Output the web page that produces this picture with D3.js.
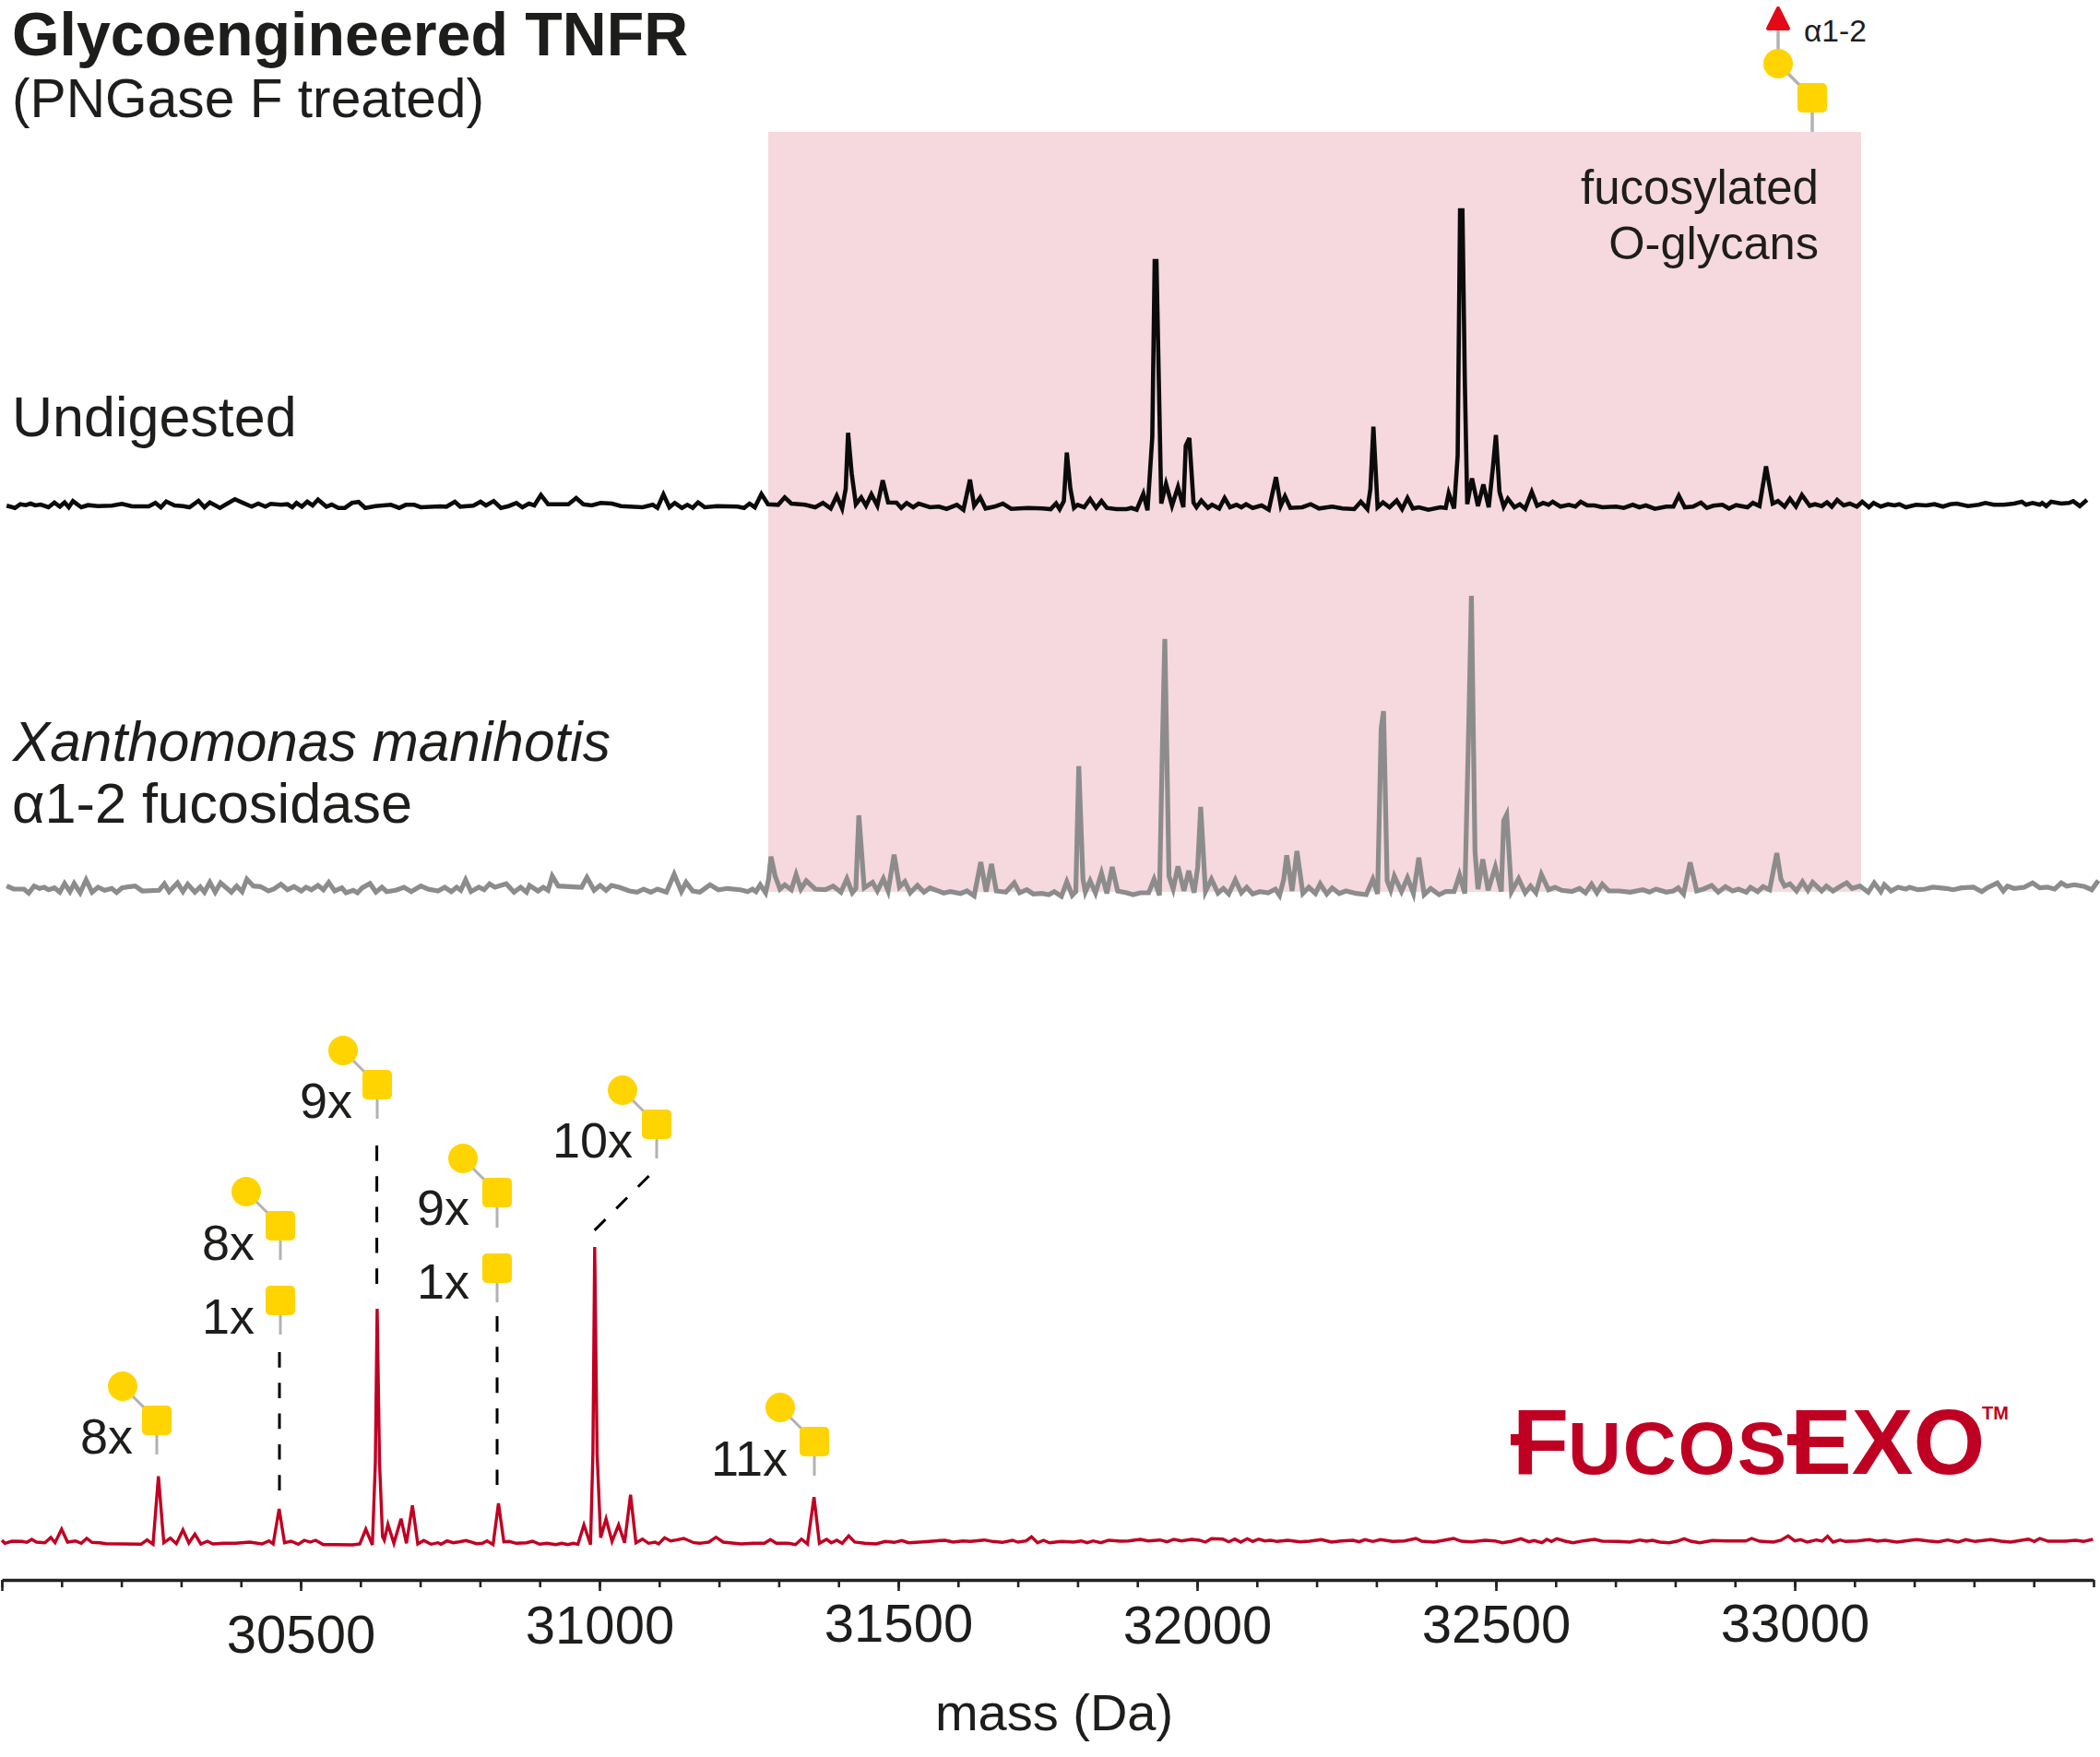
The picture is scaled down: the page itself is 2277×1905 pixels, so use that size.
<!DOCTYPE html>
<html><head><meta charset="utf-8">
<script src="https://d3js.org/d3.v7.min.js"></script>
<style>
html,body{margin:0;padding:0;background:#fff}
svg{display:block}
text{font-family:"Liberation Sans",Arial,sans-serif;fill:#1d1d1b}
</style></head><body>
<svg id="chart" width="2277" height="1905"></svg>
<script>
const massTicksMajor=[30000,30500,31000,31500,32000,32500,33000];
const massTickLabels=[30500,31000,31500,32000,32500,33000];

const undigestedMass=[30008,30022,30031,30040,30048,30056,30065,30078,30088,30097,30105,30112,30119,30133,30144,30161,30184,30201,30218,30246,30257,30266,30275,30289,30303,30314,30329,30339,30348,30365,30374,30390,30404,30418,30429,30441,30450,30467,30478,30486,30493,30502,30511,30520,30529,30543,30552,30563,30574,30586,30597,30608,30625,30651,30665,30676,30690,30701,30733,30744,30758,30767,30789,30801,30810,30823,30835,30848,30861,30871,30882,30891,30902,30914,30948,30961,30973,30987,31002,31021,31036,31072,31089,31097,31107,31117,31126,31138,31147,31156,31165,31176,31197,31231,31242,31251,31260,31271,31282,31299,31310,31321,31344,31361,31374,31387,31397,31406,31412,31416,31422,31429,31438,31446,31455,31465,31474,31483,31497,31505,31514,31525,31534,31553,31568,31581,31598,31609,31620,31627,31637,31646,31661,31675,31689,31717,31741,31755,31764,31770,31777,31782,31788,31794,31800,31811,31821,31831,31840,31849,31865,31882,31890,31899,31910,31917,31925,31929,31932,31936,31940,31948,31958,31968,31977,31981,31987,31994,31999,32007,32018,32025,32037,32046,32055,32066,32074,32082,32093,32108,32120,32132,32140,32147,32156,32176,32190,32204,32226,32243,32263,32274,32285,32290,32295,32302,32311,32322,32334,32343,32352,32361,32371,32387,32407,32416,32421,32430,32436,32440,32444,32448,32452,32460,32470,32479,32488,32495,32500,32506,32513,32520,32531,32540,32549,32560,32569,32579,32588,32595,32608,32622,32633,32642,32653,32665,32678,32701,32714,32729,32740,32751,32766,32785,32797,32806,32816,32830,32843,32853,32864,32879,32890,32902,32921,32930,32941,32952,32963,32972,32983,32992,33002,33012,33025,33034,33045,33054,33062,33071,33082,33092,33104,33113,33124,33132,33144,33156,33167,33175,33186,33203,33220,33234,33248,33260,33271,33290,33308,33319,33333,33350,33367,33380,33387,33398,33410,33414,33421,33429,33446,33459,33466,33477,33489];
const undigestedIntensity=[5.7,3.3,7.3,6.3,8,6,7,4,9,4.7,9.3,4,10.7,4,6.3,5.3,5.7,7.7,5,5,8.7,4,10.3,6,5.3,4,11,4,9.3,3.3,6.7,12.7,8.7,4.7,8,4.7,7.7,6.7,7.3,4,8.7,4.7,10,6,12.3,4.7,7,3.3,3.3,8.7,9.7,3.3,5.3,6.7,3.3,6.7,6.7,4,5,4.7,10,4.7,5.7,10,6,10.7,3.3,5.3,8.7,4,8,6,17.3,7.3,7.3,14,7.3,6,8.7,8,5.3,4,6.7,3.3,18,4,8.7,3.3,6.7,3.3,9.3,4,5.3,4.7,3.3,8,4,18.3,7.3,6.7,14.7,8,6.7,4,8.7,2.7,16.3,2.7,24,84.7,40.7,7.3,14.7,5.7,18,5.7,33.3,9.3,9,3.3,8.7,4,8,4,4.7,2.3,6.7,1.3,34,5.7,14.7,2.7,4.7,8,2.3,3.3,2.7,2,8.3,2,10.7,63.3,24,3.3,6.7,4,13,3.3,10.7,3.3,2,2,3.3,1.3,18.7,0.7,80,271,271,140,8,29.3,5.7,26,4,70.7,79,9,4,11.3,3.3,6.7,2.7,14,4,6.7,4,7.3,3.3,6,1.3,36.7,5.7,16,3.3,4,7.3,2.7,4.7,2.7,2,10,2,24,91.3,4,9.3,4,11.3,2,14,2.7,4,1.3,4,3.3,19.3,2.7,60,326,326,140,7.3,35.3,5.3,28.7,4,47.3,82.3,20.7,4.7,13.3,4,7.3,2.3,20.7,5.7,8.7,6.7,10,4.7,6.7,4.7,10,6,6,4,4.7,3.3,6.7,4,6,2.3,4.7,4.7,16.7,4,4.7,9,3.3,5.7,6.7,2.7,6.3,4,8.7,5.3,48.3,8,10.7,4.7,13.3,4.7,17.3,5.7,7.3,5.3,9.3,4.7,12,6,8,4.7,10,4,8.7,4.7,7.3,6,7.3,4,6.7,6,7.3,4.7,7.3,8,5.3,6.7,8.7,6.7,6.7,8,10,6.7,8.7,6.7,8.7,5.3,10,8,8.7,10.7,5.3,12];

const fucosidaseMass=[30008,30020,30037,30045,30054,30063,30071,30078,30088,30097,30105,30114,30121,30131,30141,30151,30161,30172,30184,30192,30201,30214,30223,30235,30263,30272,30280,30294,30303,30311,30323,30332,30339,30348,30357,30366,30384,30393,30402,30410,30421,30433,30446,30455,30467,30478,30489,30501,30509,30518,30529,30538,30547,30557,30569,30576,30588,30595,30603,30616,30626,30636,30644,30659,30673,30685,30701,30713,30730,30741,30752,30761,30768,30776,30785,30798,30807,30816,30825,30844,30857,30868,30878,30883,30897,30906,30914,30921,30931,30970,30979,30991,31001,31011,31020,31033,31050,31063,31074,31086,31097,31112,31125,31137,31145,31156,31168,31185,31199,31214,31236,31248,31256,31262,31269,31278,31283,31287,31294,31302,31310,31321,31329,31337,31346,31361,31378,31391,31404,31414,31423,31429,31434,31443,31457,31465,31475,31483,31493,31502,31511,31520,31532,31543,31553,31576,31587,31604,31615,31627,31638,31647,31656,31664,31680,31694,31703,31715,31726,31740,31752,31761,31773,31782,31791,31797,31802,31809,31813,31821,31830,31840,31849,31858,31867,31882,31893,31905,31919,31928,31937,31942,31946,31953,31960,31968,31978,31986,31995,32001,32006,32014,32024,32035,32044,32053,32064,32074,32083,32093,32105,32119,32131,32138,32145,32150,32159,32167,32177,32187,32198,32206,32217,32226,32238,32249,32266,32283,32294,32302,32308,32312,32318,32324,32330,32342,32352,32362,32371,32380,32391,32405,32416,32430,32439,32448,32455,32459,32465,32470,32478,32487,32499,32509,32513,32518,32526,32538,32549,32558,32567,32576,32588,32599,32610,32627,32640,32650,32660,32669,32678,32689,32706,32725,32746,32757,32768,32785,32797,32805,32814,32825,32836,32847,32861,32872,32884,32896,32906,32919,32926,32938,32947,32958,32970,32977,32983,32992,33003,33013,33022,33030,33045,33053,33064,33077,33087,33096,33109,33123,33133,33144,33150,33161,33173,33186,33192,33206,33218,33231,33254,33265,33279,33299,33313,33322,33339,33349,33356,33367,33384,33398,33410,33423,33435,33446,33455,33468,33485,33497,33508];
const fucosidaseIntensity=[11.3,8,8,3.7,11.3,8.7,10,7.3,9.3,4.7,14,5.3,14,4,18,4.7,10,6.7,8.7,4.3,9.3,10.7,11.3,6,6.7,13.7,5.3,14.7,5.3,13.3,4.7,10.3,4.7,15.3,4.7,14.7,4.7,11.3,5.3,18.7,11.3,10.7,6,8,13.3,7.3,10.7,6,10,7.3,12,7.3,15.3,6,9.3,4,6.7,4,9.3,14,4.7,10,5.3,6.7,10,5.3,11.3,8,6,10,5.3,10,6.7,18,5.3,10,7.3,13.7,10,13.7,4.7,10,4.7,12,6,10,6.7,22,11.3,10,20.7,6.7,12,6.7,12,10,6,4.7,8,4.7,8,4.7,24,5.3,15.3,6,4.7,12.7,7.3,8.7,7.3,5.3,8,5.3,12.7,4,18.7,43.3,22,8,12.7,7.3,23.7,8,17,8,7.3,11.3,4.7,19.3,4,8.7,88,9.3,15.3,6,19.3,6,45.3,10.3,16,4,12,4.7,9.3,3.7,5.3,3.3,6,0.7,37.3,5.3,35.3,6,4.7,14.7,4,7.3,2.7,3.3,2,5.3,0.3,16,1.3,5.3,141.3,18.7,4.7,17,3.7,25.3,3.3,32,6,4,2,4,4,18.7,1.3,165.3,279.3,22,8,32.7,6,28,4,32,97,5.3,18.7,3.7,8.7,2.7,18,4,10,2.7,5.3,4,8,1.3,18.7,44.7,6,49.3,3.3,10,3.3,13.7,2.7,9.3,3.3,6,3.3,2,18.7,2.7,182,201,17,7,22,5.3,20.3,3.3,42,2,8.7,2,5.3,5.3,23.3,3.3,198.7,326,48.7,8,40.3,6.7,32,5.3,82,88.7,5.3,19.3,4,11.3,4,24,7.3,10,6.7,5.3,8.7,4,13.3,4,13.3,6,6,4.7,7.3,4.7,8,4.7,6,9.3,2.7,37,6,8,12,4.7,10.7,6,8,4.7,10,5.3,10.7,7.3,47,18.7,11.3,13.7,6,16,6.7,15.3,6,11.3,6,11.3,14.7,8.7,11.3,4.7,14.7,5.3,12.7,6,10,8,10,7.3,8,10,8.7,7.3,9.3,10,5.3,9.3,14.7,6,11.3,8.7,10,14.7,9.3,10,8,14.7,11.3,12.7,10.7,7.3,17.3];

const fucosexoMass=[30000,30005,30017,30034,30042,30050,30058,30072,30082,30089,30100,30110,30123,30133,30142,30151,30164,30174,30233,30243,30253,30262,30271,30282,30292,30303,30313,30323,30333,30344,30353,30371,30391,30415,30435,30447,30454,30464,30473,30484,30496,30506,30516,30525,30538,30558,30587,30599,30609,30620,30625,30628,30632,30637,30640,30646,30656,30668,30677,30687,30696,30706,30718,30730,30735,30745,30755,30765,30777,30794,30804,30812,30822,30831,30840,30849,30861,30878,30888,30900,30912,30927,30937,30947,30956,30964,30974,30985,30989,30992,30996,31002,31011,31021,31032,31042,31052,31061,31072,31082,31093,31099,31109,31119,31129,31141,31158,31168,31183,31195,31207,31222,31237,31257,31276,31286,31296,31316,31328,31338,31348,31359,31368,31380,31388,31397,31406,31417,31427,31444,31463,31478,31493,31506,31517,31542,31562,31578,31592,31608,31621,31644,31658,31674,31691,31700,31714,31723,31733,31743,31753,31773,31793,31806,31816,31826,31839,31852,31872,31885,31905,31918,31938,31950,31961,31974,31991,32004,32014,32024,32043,32053,32063,32073,32084,32093,32103,32113,32123,32134,32152,32172,32188,32208,32225,32241,32261,32271,32281,32294,32307,32327,32347,32366,32376,32396,32413,32429,32442,32459,32482,32498,32511,32527,32542,32555,32564,32577,32585,32593,32602,32616,32629,32646,32665,32678,32705,32724,32741,32752,32762,32774,32790,32803,32815,32826,32841,32862,32885,32918,32928,32941,32964,32977,32989,33000,33010,33021,33036,33046,33055,33064,33076,33085,33105,33125,33138,33151,33171,33191,33204,33223,33240,33256,33273,33286,33302,33328,33345,33361,33391,33401,33410,33424,33453,33470,33483,33499];
const fucosexoIntensity=[6,2.7,5,4.7,3.7,7,4,3.3,9,3.3,18,4,5.3,2.7,8,3.7,3.3,2.3,1.7,6.3,1.7,75.3,3.3,8.3,2.3,17.3,3,12.7,2,5,2,2.7,2.7,4,2,5.3,2,40,3.3,5,1.7,6,4,6,1.3,1.3,1,2,18,1,90,257,90,10,6,23.3,2.7,29.3,2.7,43.7,2,5.7,1.7,3.3,1.7,5.3,3.3,4.3,5.7,2.3,2.7,5.3,1.3,46,4.3,4.7,2.7,3.3,5,1.7,2.7,1.3,2.7,1.3,2.7,1.7,22.7,1.3,100,324,100,8.7,29.3,4.7,22.7,3.3,55.3,3.3,7.3,2.7,4,2,8.7,5.3,6.3,8,3.3,2.7,4,9.3,4,3,2,2.7,2.7,6.7,2.7,2.7,1.3,7.3,2,52.7,2.7,7,3.3,6,2.7,10.7,4,2.7,2,4.7,3.7,5.7,3.3,4.3,5.3,6,4,5.3,4.7,6.3,4.7,3.7,6,4,5.3,9.7,3.3,6,3.3,4.7,4,5.3,3.3,5.3,3.3,6,5,5.3,7,5.3,6.3,4.3,7,5.3,7,6,4,7.7,7.3,4.3,7.3,4,7.7,4.7,7.3,5.3,6,4.7,6,4.3,5,6.7,4,5.3,6,4.3,6.7,4.7,6.7,4.7,5.3,8,5,4,6,8,5,4.3,6,5.3,3.3,5,7.7,4.3,5.7,3.3,7,4.7,7.7,5,3.3,5.3,7,5,4.7,4,6.3,5,6,4,3.3,5,7.7,5,3.3,5.7,5.3,5.3,8,5,4,6,10.7,5.3,6.7,4,6.3,5,10.3,4,6.3,4.7,5.3,6.7,5,6,4,5.7,6.7,5.3,4.3,6.3,4,6.7,4.7,6.7,5,4,7.3,4.7,8,5,5,6,4.7,7];

const tickBaselines={30500:1792,31000:1782,31500:1780,32000:1782,32500:1781,33000:1780};

const svg=d3.select("#chart");
const x=d3.scaleLinear().domain([30000,33500]).range([2,2270]);
const yUndigested=d3.scaleLinear().domain([0,326]).range([554,228]);
const yFucosidase=d3.scaleLinear().domain([0,326]).range([972,646]);
const yFucosEXO=d3.scaleLinear().domain([0,324]).range([1676,1352]);

// shaded fucosylated O-glycan region
svg.append("rect").attr("x",833).attr("y",143).attr("width",1185).attr("height",824).attr("fill","#f5d9df");

function trace(massArr,intArr,y,color,w){
  const line=d3.line().x(d=>x(d[0])).y(d=>y(d[1]));
  svg.append("path").datum(d3.zip(massArr,intArr)).attr("d",line)
    .attr("fill","none").attr("stroke",color).attr("stroke-width",w)
    .attr("stroke-linejoin","miter").attr("stroke-miterlimit",4);
}
trace(undigestedMass,undigestedIntensity,yUndigested,"#0b0b0b",4.6);
trace(fucosidaseMass,fucosidaseIntensity,yFucosidase,"#8c8c8c",5.2);
trace(fucosexoMass,fucosexoIntensity,yFucosEXO,"#c00022",3.4);

// axis
const axisY=1713;
const minor=svg.append("g").attr("transform",`translate(0,${axisY})`)
  .call(d3.axisBottom(x).tickValues(d3.range(30000,33501,100)).tickSize(8).tickSizeOuter(0).tickFormat(""));
minor.select(".domain").attr("stroke","#222").attr("stroke-width",3.6);
minor.selectAll(".tick line").attr("stroke","#222").attr("stroke-width",2.6);
const major=svg.append("g").attr("transform",`translate(0,${axisY})`)
  .call(d3.axisBottom(x).tickValues(massTicksMajor).tickSize(12).tickSizeOuter(0)
    .tickFormat(d=>massTickLabels.includes(d)?String(d):""));
major.select(".domain").remove();
major.selectAll(".tick line").attr("stroke","#222").attr("stroke-width",2.6);
major.selectAll(".tick text").attr("dy",null).attr("y",d=>(tickBaselines[d]||1780)-axisY)
  .style("font-size","58px").style("font-family",'"Liberation Sans"').attr("fill","#1d1d1b");
major.attr("font-size",null).attr("font-family",null);

function txt(s,px,py,size,opt={}){
  return svg.append("text").attr("x",px).attr("y",py).text(s).style("font-size",size+"px")
    .attr("text-anchor",opt.anchor||"start").style("font-weight",opt.weight||"normal").style("font-style",opt.style||"normal");
}
txt("Glycoengineered TNFR",13,60,66.3,{weight:"bold"});
txt("(PNGase F treated)",13,127,58.7);
txt("Undigested",13,473,61);
txt("Xanthomonas manihotis",14,825,60.4,{style:"italic"});
txt("α1-2 fucosidase",13,892,61.3);
txt("fucosylated",1972,221,51,{anchor:"end"});
txt("O-glycans",1972,281,50.6,{anchor:"end"});
txt("mass (Da)",1143,1876,56,{anchor:"middle"});

// glycan glyphs
const gold="#ffd400", linkGrey="#b2b2b2";
function square(cx,cy,stemEnd){
  svg.append("line").attr("x1",cx).attr("x2",cx).attr("y1",cy).attr("y2",stemEnd).attr("stroke",linkGrey).attr("stroke-width",3);
  svg.append("rect").attr("x",cx-16).attr("y",cy-16).attr("width",32).attr("height",32).attr("rx",5).attr("fill",gold);
}
function glycan(cx,cy,stemEnd,label,labelRight,labelBase){
  svg.append("line").attr("x1",cx-37).attr("y1",cy-37).attr("x2",cx).attr("y2",cy).attr("stroke",linkGrey).attr("stroke-width",3);
  square(cx,cy,stemEnd);
  svg.append("circle").attr("cx",cx-37).attr("cy",cy-37).attr("r",16).attr("fill",gold);
  txt(label,labelRight,labelBase,54,{anchor:"end"});
}
function single(cx,cy,stemEnd,label,labelRight,labelBase){
  square(cx,cy,stemEnd);
  txt(label,labelRight,labelBase,54,{anchor:"end"});
}
function dash(x1,y1,x2,y2){
  svg.append("line").attr("x1",x1).attr("y1",y1).attr("x2",x2).attr("y2",y2)
    .attr("stroke","#000").attr("stroke-width",3).attr("stroke-dasharray","16.7 16.6");
}
glycan(170,1540,1577,"8x",144,1576);
glycan(304,1329,1366,"8x",276,1366);
single(304,1410,1447,"1x",276,1446);
glycan(409,1176,1213,"9x",382,1212);
glycan(539,1293,1331,"9x",509,1328);
single(539,1375,1412,"1x",509,1408);
glycan(712,1219,1256,"10x",686,1255);
glycan(883,1563,1600,"11x",854,1600);
dash(303,1466,303,1616);
dash(408.6,1242,408.6,1392);
dash(539,1427,539,1610);
dash(703.6,1275,644.6,1334);

// fucose-bearing glyph above the shaded region
svg.append("line").attr("x1",1928).attr("x2",1928).attr("y1",30).attr("y2",60).attr("stroke",linkGrey).attr("stroke-width",3.5);
svg.append("line").attr("x1",1928).attr("y1",69).attr("x2",1965).attr("y2",106).attr("stroke",linkGrey).attr("stroke-width",3.5);
svg.append("line").attr("x1",1965).attr("x2",1965).attr("y1",106).attr("y2",143).attr("stroke",linkGrey).attr("stroke-width",3.5);
svg.append("path").attr("d",d3.line()([[1928,9],[1939,31],[1917,31]])+"Z").attr("fill","#e30a17").attr("stroke","#e30a17").attr("stroke-width",4).attr("stroke-linejoin","round");
svg.append("circle").attr("cx",1928).attr("cy",69).attr("r",16).attr("fill",gold);
svg.append("rect").attr("x",1949).attr("y",90).attr("width",32).attr("height",32).attr("rx",5).attr("fill",gold);
txt("α1-2",1956,45,33.5);

// logo
const red="#bf0022";
svg.append("rect").attr("x",1638).attr("y",1555).attr("width",14).attr("height",12).attr("fill",red);
svg.append("rect").attr("x",1938).attr("y",1555).attr("width",14).attr("height",12).attr("fill",red);
const logo=svg.append("text").attr("y",1598).style("font-weight","bold");
logo.append("tspan").attr("x",1640).style("font-size","100px").style("fill",red).text("F");
logo.append("tspan").attr("x",1700).style("font-size","80px").style("letter-spacing","2px").style("fill",red).style("text-transform","uppercase").text("ucos");
logo.append("tspan").attr("x",1941).style("font-size","100px").style("fill",red).text("EXO");
logo.append("tspan").attr("x",2149).attr("y",1539).style("font-size","20px").style("fill",red).text("TM");
</script>
</body></html>
